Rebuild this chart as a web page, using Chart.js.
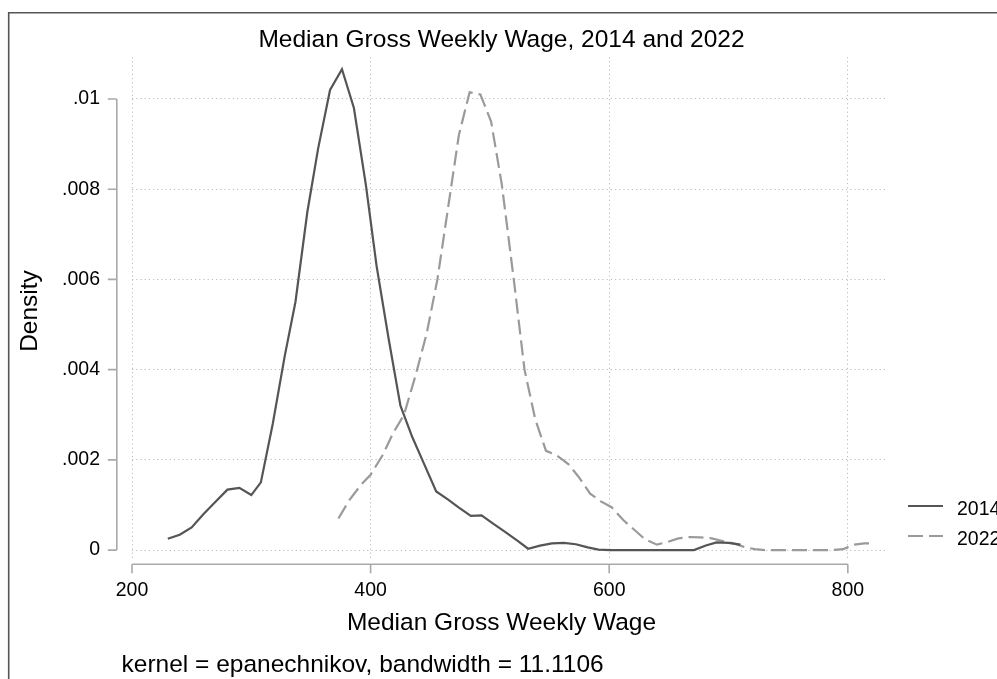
<!DOCTYPE html>
<html>
<head>
<meta charset="utf-8">
<script src="https://cdn.jsdelivr.net/npm/chart.js@4/dist/chart.umd.min.js"></script>
<style>
  html, body { margin: 0; padding: 0; background: #fff; }
  #wrap { width: 997px; height: 679px; position: relative; }
</style>
</head>
<body>
<div id="wrap"><canvas id="c" width="997" height="679"></canvas></div>
<script>
// Kernel density estimates of median gross weekly wage
const wage2014 = [230, 240, 250, 260, 270, 280, 290, 300, 308, 318, 328, 337, 347, 356, 366, 376, 386, 396, 405, 415,
                  425, 435, 445, 455, 465, 474, 484, 493, 503, 513, 523, 532, 542, 552, 562, 572, 582, 591, 601, 611,
                  621, 631, 641, 651, 661, 671, 681, 690, 700, 710];
const density2014 = [0.00025, 0.00034, 0.0005, 0.0008, 0.00107, 0.00134, 0.00138, 0.00122, 0.0015, 0.0028,
                     0.0043, 0.0055, 0.0075, 0.0089, 0.0102, 0.01066, 0.0098, 0.0081, 0.0063, 0.0047,
                     0.0032, 0.0025, 0.0019, 0.0013, 0.00112, 0.00094, 0.00076, 0.00077, 0.00058, 0.0004,
                     0.00021, 0.00003, 0.0001, 0.00015, 0.00016, 0.00013, 0.00006, 0.00001, 0, 0,
                     0, 0, 0, 0, 0, 0, 0.0001, 0.00017, 0.00016, 0.00012];

const wage2022 = [373, 382, 392, 400, 410, 419, 428, 438, 447, 456, 465, 474, 483, 492, 501, 510, 520, 529, 538, 547,
                  556, 566, 575, 584, 593, 602, 612, 621, 630, 640, 649, 658, 667, 676, 686, 695, 704, 713, 722, 731,
                  741, 750, 759, 768, 777, 787, 796, 805, 814, 822];
const density2022 = [0.0007, 0.0011, 0.00145, 0.00167, 0.0021, 0.0026, 0.003, 0.0039, 0.0048, 0.006,
                     0.0076, 0.0092, 0.01015, 0.0101, 0.0095, 0.0081, 0.006, 0.004, 0.0029, 0.0022,
                     0.0021, 0.0019, 0.0016, 0.00125, 0.00108, 0.00095, 0.00066, 0.00045, 0.00024, 0.00012,
                     0.00018, 0.00026, 0.00029, 0.00028, 0.00026, 0.0002, 0.00015, 0.00007, 0.00002, 0,
                     0, 0, 0, 0, 0, 0, 0.00002, 0.00012, 0.00015, 0.00015];

const seriesLabels = ['2014', '2022'];
const xTicks = [200, 400, 600, 800];
const yTicks = [0, 0.002, 0.004, 0.006, 0.008, 0.01];
const yTickLabels = ['0', '.002', '.004', '.006', '.008', '.01'];

const chartTitle = 'Median Gross Weekly Wage, 2014 and 2022';
const xTitle = 'Median Gross Weekly Wage';
const yTitle = 'Density';
const noteText = 'kernel = epanechnikov, bandwidth = 11.1106';

const FONT = '"Liberation Sans", Arial, Helvetica, sans-serif';
const TICK_SIZE = 19.5;
const TITLE_SIZE = 24.5;
const LINE_2014 = '#555555';
const LINE_2022 = '#9a9a9a';
const DASH_2022 = [15, 6];
const AXIS_COLOR = '#a9a9a9';
const GRID_COLOR = '#bdbdbd';

function toPoints(xs, ys) {
  return xs.map((x, i) => ({ x: x, y: ys[i] }));
}

// Stata-style decorations: outer frame, detached axis lines, titles, note and legend
const stataDecor = {
  id: 'stataDecor',
  beforeDraw(chart) {
    const ctx = chart.ctx;
    ctx.save();
    ctx.fillStyle = '#ffffff';
    ctx.fillRect(0, 0, chart.width, chart.height);
    ctx.restore();
  },
  afterDraw(chart) {
    const ctx = chart.ctx;
    const xs = chart.scales.x;
    const ys = chart.scales.y;
    ctx.save();

    // outer graph frame
    ctx.strokeStyle = '#555555';
    ctx.lineWidth = 1.6;
    ctx.beginPath();
    ctx.moveTo(chart.width + 2, 12.7);
    ctx.lineTo(8.7, 12.7);
    ctx.lineTo(8.7, chart.height + 2);
    ctx.stroke();

    // y axis line with ticks
    const yAxisX = 116.8;
    ctx.strokeStyle = AXIS_COLOR;
    ctx.lineWidth = 1.6;
    ctx.beginPath();
    ctx.moveTo(yAxisX, ys.getPixelForValue(yTicks[0]));
    ctx.lineTo(yAxisX, ys.getPixelForValue(yTicks[yTicks.length - 1]));
    yTicks.forEach(v => {
      const py = ys.getPixelForValue(v);
      ctx.moveTo(yAxisX, py);
      ctx.lineTo(yAxisX - 9, py);
    });
    ctx.stroke();

    // x axis line with ticks
    const xAxisY = 564.3;
    ctx.beginPath();
    ctx.moveTo(xs.getPixelForValue(xTicks[0]), xAxisY);
    ctx.lineTo(xs.getPixelForValue(xTicks[xTicks.length - 1]), xAxisY);
    xTicks.forEach(v => {
      const px = xs.getPixelForValue(v);
      ctx.moveTo(px, xAxisY);
      ctx.lineTo(px, xAxisY + 9);
    });
    ctx.stroke();

    // texts
    ctx.fillStyle = '#000000';
    ctx.textBaseline = 'alphabetic';
    ctx.font = TITLE_SIZE + 'px ' + FONT;
    ctx.textAlign = 'center';
    ctx.fillText(chartTitle, 501.5, 46.5);
    ctx.fillText(xTitle, 501.5, 630);
    ctx.textAlign = 'left';
    ctx.fillText(noteText, 121.5, 672);

    ctx.save();
    ctx.translate(37, 311);
    ctx.rotate(-Math.PI / 2);
    ctx.textAlign = 'center';
    ctx.fillText(yTitle, 0, 0);
    ctx.restore();

    // legend
    const ds = chart.data.datasets;
    const legendRows = [506, 536];
    ctx.font = TICK_SIZE + 'px ' + FONT;
    ctx.textAlign = 'left';
    ds.forEach((d, i) => {
      const y = legendRows[i];
      ctx.strokeStyle = d.borderColor;
      ctx.lineWidth = d.borderWidth;
      ctx.setLineDash(d.borderDash || []);
      ctx.beginPath();
      ctx.moveTo(908, y);
      ctx.lineTo(943, y);
      ctx.stroke();
      ctx.setLineDash([]);
      ctx.fillStyle = '#000000';
      ctx.fillText(d.label, 957, y + 8.5);
    });

    ctx.restore();
  }
};

new Chart(document.getElementById('c'), {
  type: 'line',
  data: {
    datasets: [
      {
        label: seriesLabels[0],
        data: toPoints(wage2014, density2014),
        borderColor: LINE_2014,
        borderWidth: 2.2,
        pointRadius: 0,
        tension: 0,
        fill: false
      },
      {
        label: seriesLabels[1],
        data: toPoints(wage2022, density2022),
        borderColor: LINE_2022,
        borderWidth: 2.2,
        borderDash: DASH_2022,
        pointRadius: 0,
        tension: 0,
        fill: false
      }
    ]
  },
  options: {
    responsive: false,
    animation: false,
    devicePixelRatio: 1,
    layout: { padding: { top: 57, left: 10, right: 111, bottom: 79 } },
    plugins: {
      legend: { display: false },
      title: { display: false },
      tooltip: { enabled: false }
    },
    scales: {
      x: {
        type: 'linear',
        min: 200,
        max: 832,
        afterBuildTicks: s => { s.ticks = xTicks.map(v => ({ value: v })); },
        afterFit: s => { s.height = 40; },
        ticks: {
          autoSkip: false,
          maxRotation: 0,
          padding: 18.5,
          color: '#000',
          font: { family: FONT, size: TICK_SIZE },
          callback: v => String(v)
        },
        grid: { color: GRID_COLOR, lineWidth: 1, drawTicks: false },
        border: { display: false, dash: [1.2, 3] }
      },
      y: {
        type: 'linear',
        min: -0.00022,
        max: 0.01093,
        afterBuildTicks: s => { s.ticks = yTicks.map(v => ({ value: v })); },
        afterFit: s => { s.width = 122; },
        ticks: {
          autoSkip: false,
          padding: 32,
          color: '#000',
          font: { family: FONT, size: TICK_SIZE },
          callback: (v, i) => yTickLabels[i]
        },
        grid: { color: GRID_COLOR, lineWidth: 1, drawTicks: false },
        border: { display: false, dash: [1.2, 3] }
      }
    }
  },
  plugins: [stataDecor]
});
</script>
</body>
</html>
